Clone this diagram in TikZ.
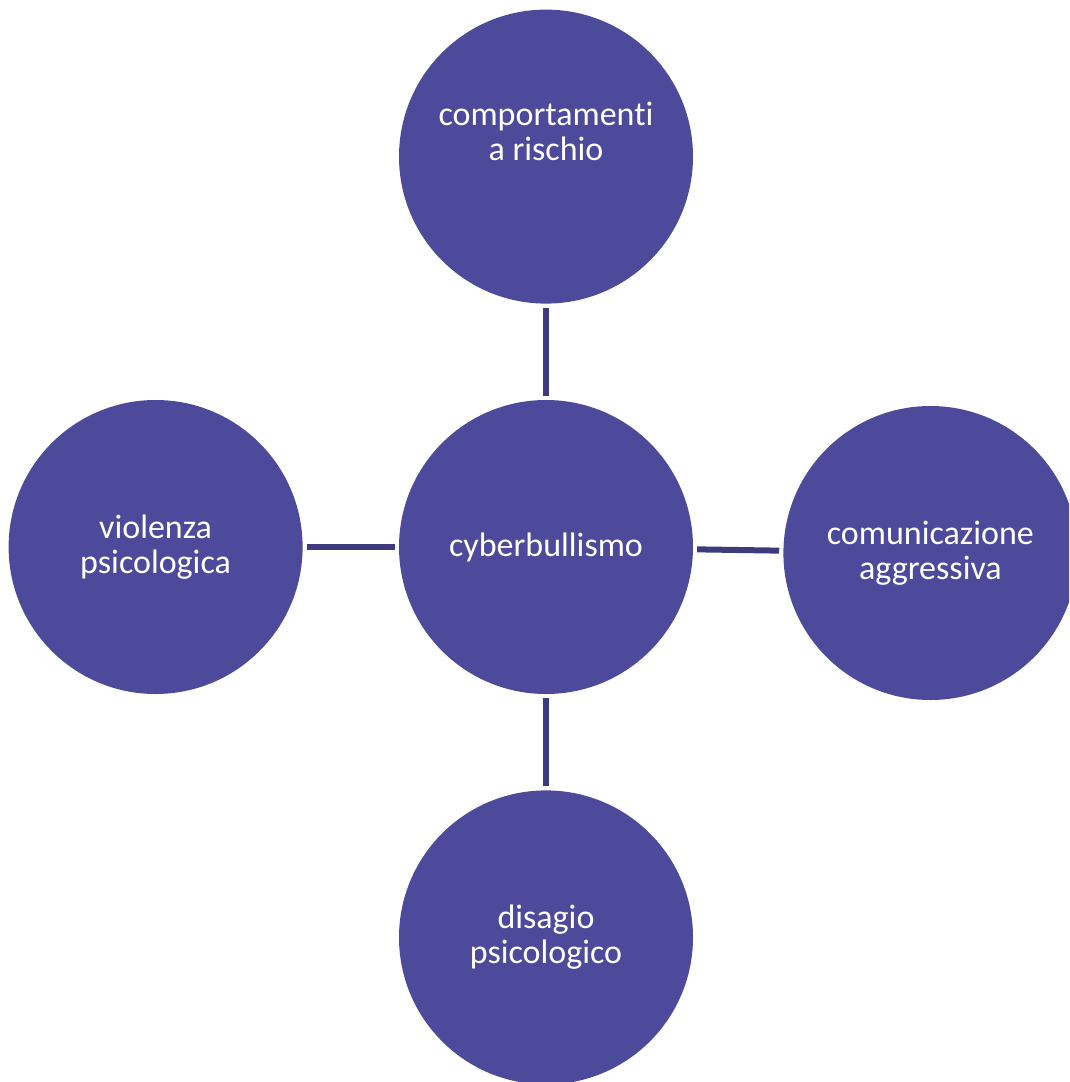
\documentclass[tikz,border=0pt]{standalone}
\usepackage{fontspec}
\setmainfont{Carlito}[Ligatures=NoCommon]
\usetikzlibrary{positioning}
\definecolor{disc}{HTML}{4E4A9B}
\definecolor{wire}{HTML}{3E3A7E}

\begin{document}
\begin{tikzpicture}[
  x=1pt,y=-1pt,
  node distance=96pt,
  topic/.style={circle,fill=disc,text=white,minimum size=294pt,inner sep=0pt,align=center,font=\fontsize{34}{35}\selectfont},
  spoke/.style={draw=wire,line width=6pt,shorten <=4pt,shorten >=4pt}
]
  \useasboundingbox (0,0) rectangle (1069,1082);
  \clip (0,0) rectangle (1069,1082);
  \node[topic] (cyber) at (546,547) {cyberbullismo};
  \node[topic,above=of cyber,text depth=50pt] (rischio) {comportamenti\\a rischio};
  \node[topic,left=of cyber] (violenza) {violenza\\psicologica};
  \node[topic,right=90pt of cyber,yshift=-6pt] (aggressiva) {comunicazione\\aggressiva};
  \node[topic,below=of cyber] (disagio) {disagio\\psicologico};
  \draw[spoke] (rischio) -- (cyber);
  \draw[spoke] (violenza) -- (cyber);
  \draw[spoke] (cyber) -- (aggressiva);
  \draw[spoke] (cyber) -- (disagio);
\end{tikzpicture}
\end{document}
